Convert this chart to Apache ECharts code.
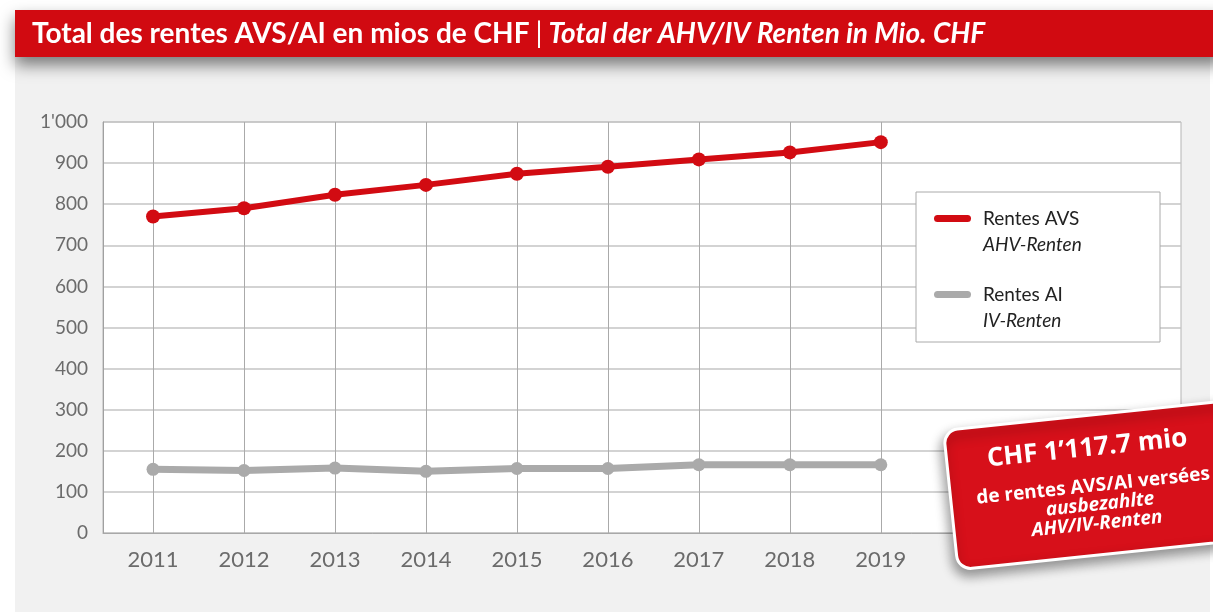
<!DOCTYPE html>
<html>
<head>
<meta charset="utf-8">
<script src="https://cdn.jsdelivr.net/npm/echarts@6/dist/echarts.min.js"></script>
<style>
  html, body { margin: 0; padding: 0; background: #fff; }
  #chart { width: 1213px; height: 612px; }
</style>
</head>
<body>
<div id="chart"></div>
<script>
// data
var years = [2011, 2012, 2013, 2014, 2015, 2016, 2017, 2018, 2019];
var rentesAVS = [770, 790, 823, 847, 874, 891, 909, 926, 951];
var rentesAI = [155, 152, 158, 150, 157, 157, 166, 166, 166];
var seriesNames = ["Rentes AVS", "Rentes AI"];
var seriesNamesDe = ["AHV-Renten", "IV-Renten"];
var titleFr = "Total des rentes AVS/AI en mios de CHF";
var titleDe = "Total der AHV/IV Renten in Mio. CHF";
var badgeLines = ["CHF 1\u2019117.7 mio", "de rentes AVS/AI vers\u00e9es", "ausbezahlte", "AHV/IV-Renten"];

var red = "#d20b12";
var grey = "#aaaaaa";
var font = "Lato, 'Noto Sans', sans-serif";
var badgeFont = "'Open Sans', 'Noto Sans', sans-serif";

function pairs(values) {
  return values.map(function(v, i) { return [years[i], v]; });
}

function fmtThousands(v) {
  return String(v).replace(/\B(?=(\d{3})+(?!\d))/g, "'");
}

var chart = echarts.init(document.getElementById("chart"));
var rot = 6 * Math.PI / 180;

var option = {
  backgroundColor: "#fff",
  textStyle: { fontFamily: font },
  animation: false,
  title: {
    left: 32,
    top: 10,
    padding: 0,
    z: 8,
    text: "{a|" + titleFr + "}{s||}{b|" + titleDe + "}",
    textStyle: {
      rich: {
        a: { color: "#fff", fontSize: 28, fontWeight: "bold", fontFamily: font, lineHeight: 47 },
        s: { color: "#fff", fontSize: 28, fontWeight: "normal", fontFamily: font, lineHeight: 47, padding: [0, 6, 0, 6] },
        b: { color: "#fff", fontSize: 28, fontWeight: "bold", fontStyle: "italic", fontFamily: font, lineHeight: 47 }
      }
    }
  },
  graphic: [
    {
      type: "rect", z: -10,
      shape: { x: 15, y: 55, width: 1195, height: 600 },
      style: { fill: "#f1f1f1" }
    },
    {
      type: "rect", z: 7,
      shape: { x: 15, y: 10, width: 1210, height: 47 },
      style: { fill: "#d10a11", shadowBlur: 16, shadowOffsetY: 8, shadowColor: "rgba(0,0,0,0.5)" }
    },
    {
      type: "rect", z: 3,
      shape: { x: 916, y: 192, width: 244, height: 150 },
      style: { fill: "#fff", stroke: "#aaa", lineWidth: 1 }
    },
    {
      type: "group",
      x: 1095, y: 485,
      rotation: rot,
      children: [
        {
          type: "rect", z: 20,
          shape: { x: -145, y: -70, width: 300, height: 140, r: 14 },
          style: { fill: "#d7101a", stroke: "#fff", lineWidth: 3, shadowBlur: 12, shadowOffsetX: -2, shadowOffsetY: 6, shadowColor: "rgba(0,0,0,0.4)" }
        },
        {
          type: "text", z: 21, x: -4, y: -37,
          style: { text: badgeLines[0], fill: "#fff", font: "bold 26px " + badgeFont, align: "center", verticalAlign: "middle" }
        },
        {
          type: "text", z: 21, x: -2, y: 1,
          style: { text: badgeLines[1], fill: "#fff", font: "bold 19px " + badgeFont, align: "center", verticalAlign: "middle" }
        },
        {
          type: "text", z: 21, x: 3, y: 20,
          style: { text: badgeLines[2], fill: "#fff", font: "italic bold 19px " + badgeFont, align: "center", verticalAlign: "middle" }
        },
        {
          type: "text", z: 21, x: -2, y: 39,
          style: { text: badgeLines[3], fill: "#fff", font: "italic bold 19px " + badgeFont, align: "center", verticalAlign: "middle" }
        }
      ]
    }
  ],
  legend: {
    orient: "vertical",
    left: 934,
    top: 183,
    padding: 0,
    z: 4,
    itemGap: 5,
    itemWidth: 37,
    itemHeight: 7,
    icon: "path://M3.5,0 H33.5 A3.5,3.5 0 0 1 33.5,7 H3.5 A3.5,3.5 0 0 1 3.5,0 Z",
    data: seriesNames,
    formatter: function(name) {
      var de = seriesNamesDe[seriesNames.indexOf(name)];
      return "{e| }\n{a|" + name + "}\n{b|" + de + "}";
    },
    textStyle: {
      rich: {
        e: { fontSize: 19, lineHeight: 26 },
        a: { fontSize: 19, lineHeight: 26, color: "#222", fontFamily: font, padding: [0, 0, 0, 7] },
        b: { fontSize: 19, lineHeight: 26, color: "#222", fontFamily: font, fontStyle: "italic", padding: [0, 0, 0, 7] }
      }
    }
  },
  grid: {
    left: 103,
    top: 122,
    right: 32,
    bottom: 79,
    show: true,
    backgroundColor: "#fff",
    borderColor: "#b5b5b5",
    borderWidth: 1
  },
  xAxis: {
    type: "value",
    min: 2010.45,
    max: 2022.3,
    axisLine: { show: true, lineStyle: { color: "#a8a8a8", width: 1 } },
    axisTick: { show: false, customValues: years },
    axisLabel: {
      customValues: years,
      color: "#6b6b6b",
      fontSize: 22,
      fontFamily: font,
      margin: 16,
      formatter: function(v) { return String(v); }
    },
    splitLine: { show: true, lineStyle: { color: "#aaaaaa", width: 1 } }
  },
  yAxis: {
    type: "value",
    min: 0,
    max: 1000,
    interval: 100,
    axisLine: { show: true, lineStyle: { color: "#a0a0a0", width: 1 } },
    axisTick: { show: false },
    axisLabel: {
      color: "#6b6b6b",
      fontSize: 19,
      fontFamily: font,
      margin: 15,
      formatter: fmtThousands
    },
    splitLine: { show: true, lineStyle: { color: "#c4c4c4", width: 1.5 } }
  },
  series: [
    {
      name: seriesNames[0],
      type: "line",
      data: pairs(rentesAVS),
      symbol: "circle",
      symbolSize: 14,
      lineStyle: { color: red, width: 6 },
      itemStyle: { color: red },
      z: 3
    },
    {
      name: seriesNames[1],
      type: "line",
      data: pairs(rentesAI),
      symbol: "circle",
      symbolSize: 13,
      lineStyle: { color: grey, width: 7 },
      itemStyle: { color: grey },
      z: 2
    }
  ]
};

chart.setOption(option);
</script>
</body>
</html>
